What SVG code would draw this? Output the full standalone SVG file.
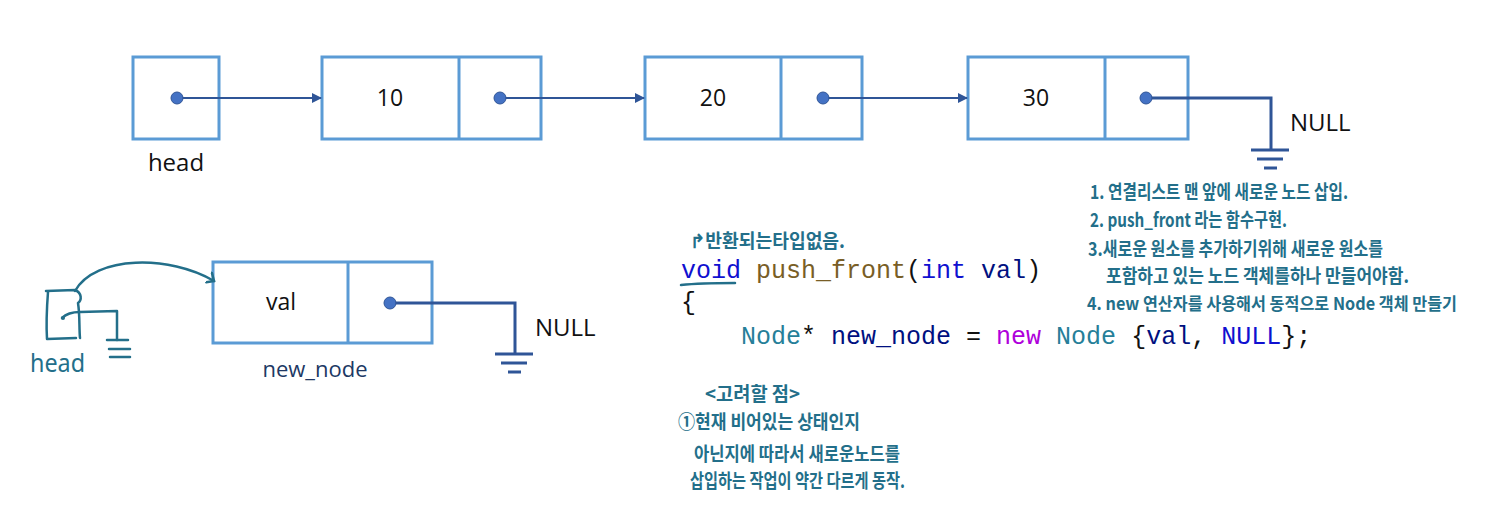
<svg xmlns="http://www.w3.org/2000/svg" width="1487" height="510" viewBox="0 0 1487 510">
<defs>
<marker id="arr" markerWidth="10" markerHeight="10" refX="9" refY="5" orient="auto" markerUnits="userSpaceOnUse">
<path d="M0,0 L10,5 L0,10 Z" fill="#2F5597"/>
</marker>
<marker id="harr" markerWidth="14" markerHeight="14" refX="7" refY="7" orient="auto" markerUnits="userSpaceOnUse">
<path d="M1,1 L7,7 L1,12" fill="none" stroke="#236F8A" stroke-width="2.5" stroke-linecap="round"/>
</marker>
</defs>
<style>
.box{fill:#fff;stroke:#5B9BD5;stroke-width:3}
.div{stroke:#5B9BD5;stroke-width:3}
.dot{fill:#4472C4;stroke:#2F5597;stroke-width:1}
.link{stroke:#2F5597;stroke-width:2;fill:none}
.nul{stroke:#2F5597;stroke-width:3;fill:none}
.gnd{stroke:#2F5597;stroke-width:3}
.lbl{font-family:"Open Sans","Liberation Sans",sans-serif;font-size:24px;fill:#111}
.val{font-family:"Open Sans","Liberation Sans",sans-serif;font-size:23px;fill:#111}
.code{font-family:"Liberation Mono","DejaVu Sans Mono",monospace;font-size:25px}
.hw{font-family:"Noto Sans CJK KR","Noto Sans",sans-serif;font-weight:bold;fill:#236F8A;font-size:19px}
.pen{stroke:#236F8A;stroke-width:2.5;fill:none;stroke-linecap:round;stroke-linejoin:round}
</style>
<rect width="1487" height="510" fill="#fff"/>

<g id="head">
<rect class="box" x="133" y="57" width="86" height="82"/>
<text class="lbl" x="176" y="171" text-anchor="middle">head</text>
</g>

<g id="node10">
<rect class="box" x="322" y="57" width="219" height="82"/>
<line class="div" x1="459" y1="57" x2="459" y2="139"/>
<text class="val" x="390" y="106" text-anchor="middle">10</text>
</g>

<g id="node20">
<rect class="box" x="645" y="57" width="217" height="82"/>
<line class="div" x1="781" y1="57" x2="781" y2="139"/>
<text class="val" x="713" y="106" text-anchor="middle">20</text>
</g>

<g id="node30">
<rect class="box" x="968" y="57" width="220" height="82"/>
<line class="div" x1="1105" y1="57" x2="1105" y2="139"/>
<text class="val" x="1036" y="106" text-anchor="middle">30</text>
</g>

<g id="new_node">
<rect class="box" x="213" y="262" width="219" height="81"/>
<line class="div" x1="348" y1="262" x2="348" y2="343"/>
<text class="val" x="281" y="310" text-anchor="middle">val</text>
<text x="315" y="377" text-anchor="middle" style="font-family:'Open Sans','Liberation Sans',sans-serif;font-size:22px;fill:#203864">new_node</text>
</g>

<g id="connectors">
<line class="link" x1="177" y1="98" x2="321" y2="98" marker-end="url(#arr)"/>
<line class="link" x1="500" y1="98" x2="644" y2="98" marker-end="url(#arr)"/>
<line class="link" x1="823" y1="98" x2="967" y2="98" marker-end="url(#arr)"/>
<polyline class="nul" points="1146,98 1271,98 1271,150"/>
<polyline class="nul" points="390,303 515,303 515,354"/>
<circle class="dot" cx="177" cy="98" r="6"/>
<circle class="dot" cx="500" cy="98" r="6"/>
<circle class="dot" cx="823" cy="98" r="6"/>
<circle class="dot" cx="1146" cy="98" r="6"/>
<circle class="dot" cx="390" cy="303" r="6"/>
</g>

<g id="null-top">
<line class="gnd" x1="1251" y1="150" x2="1289" y2="150"/>
<line class="gnd" x1="1257" y1="159" x2="1283" y2="159"/>
<line class="gnd" x1="1264" y1="168" x2="1277" y2="168"/>
<text class="lbl" x="1290" y="131">NULL</text>
</g>

<g id="null-bottom">
<line class="gnd" x1="495" y1="354" x2="533" y2="354"/>
<line class="gnd" x1="501" y1="363" x2="527" y2="363"/>
<line class="gnd" x1="508" y1="372" x2="521" y2="372"/>
<text class="lbl" x="535" y="336">NULL</text>
</g>

<g id="head-sketch">
<path class="pen" d="M48,292 C47,305 46,322 47,339 L76,338"/>
<path class="pen" d="M46,291 L75,290 C82,293 82,300 78,303 C80,315 79,328 80,338"/>
<path class="pen" d="M62,318 C66,314 72,312 80,312 L117,311 L117,340"/>
<circle cx="63" cy="318" r="2" fill="#236F8A"/>
<line class="pen" x1="107" y1="340" x2="128" y2="340"/>
<line class="pen" x1="109" y1="349" x2="130" y2="349"/>
<line class="pen" x1="110" y1="357" x2="130" y2="357"/>
<path class="pen" d="M75,291 C95,255 170,255 214,281" marker-end="url(#harr)"/>
<text x="30" y="372" textLength="55" lengthAdjust="spacingAndGlyphs" style="font-family:'Noto Sans','DejaVu Sans',sans-serif;font-size:26px;fill:#236F8A">head</text>
</g>

<g id="code">
<text class="code" x="681" y="278"><tspan fill="#1010D0">void</tspan><tspan fill="#111"> </tspan><tspan fill="#795E26">push_front</tspan><tspan fill="#111">(</tspan><tspan fill="#1010D0">int</tspan><tspan fill="#111"> </tspan><tspan fill="#001080">val</tspan><tspan fill="#111">)</tspan></text>
<text class="code" x="681" y="310" fill="#111">{</text>
<text class="code" x="741" y="344"><tspan fill="#267F99">Node</tspan><tspan fill="#111">* </tspan><tspan fill="#001080">new_node</tspan><tspan fill="#111"> = </tspan><tspan fill="#AF00DB">new</tspan><tspan fill="#111"> </tspan><tspan fill="#267F99">Node</tspan><tspan fill="#111"> {</tspan><tspan fill="#001080">val</tspan><tspan fill="#111">, </tspan><tspan fill="#1010D0">NULL</tspan><tspan fill="#111">};</tspan></text>
<path class="pen" d="M681,285 C700,283 718,283 735,283"/>
</g>

<g id="notes">
<text class="hw" x="690" y="248" textLength="155" lengthAdjust="spacingAndGlyphs">↱반환되는타입없음.</text>
<text class="hw" x="1090" y="199" textLength="258" lengthAdjust="spacingAndGlyphs">1. 연결리스트 맨 앞에 새로운 노드 삽입.</text>
<text class="hw" x="1090" y="227" textLength="197" lengthAdjust="spacingAndGlyphs">2. push_front 라는 함수구현.</text>
<text class="hw" x="1088" y="256" textLength="295" lengthAdjust="spacingAndGlyphs">3.새로운 원소를 추가하기위해 새로운 원소를</text>
<text class="hw" x="1106" y="283" textLength="303" lengthAdjust="spacingAndGlyphs">포함하고 있는 노드 객체를하나 만들어야함.</text>
<text class="hw" x="1087" y="310" textLength="370" lengthAdjust="spacingAndGlyphs" style="font-size:17px">4. new 연산자를 사용해서 동적으로 Node 객체 만들기</text>
<text class="hw" x="705" y="401" textLength="95" lengthAdjust="spacingAndGlyphs">&lt;고려할 점&gt;</text>
<text class="hw" x="678" y="429" textLength="182" lengthAdjust="spacingAndGlyphs">①현재 비어있는 상태인지</text>
<text class="hw" x="694" y="461" textLength="206" lengthAdjust="spacingAndGlyphs">아닌지에 따라서  새로운노드를</text>
<text class="hw" x="690" y="488" textLength="215" lengthAdjust="spacingAndGlyphs">삽입하는 작업이 약간 다르게 동작.</text>
</g>
</svg>
